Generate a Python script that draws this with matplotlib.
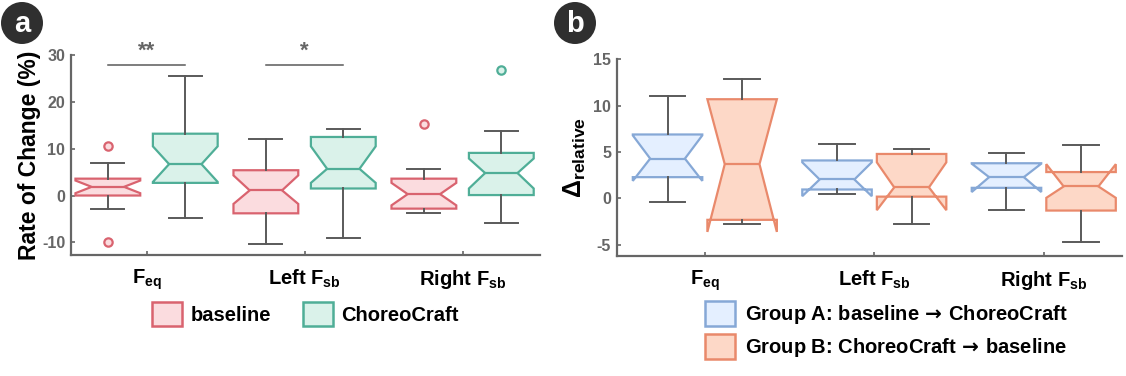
import matplotlib
matplotlib.use("Agg")
import matplotlib.pyplot as plt
from matplotlib.patches import Patch, Ellipse

plt.rcParams['font.family'] = ['Liberation Sans', 'DejaVu Sans']
plt.rcParams['font.weight'] = 'bold'
plt.rcParams['mathtext.fontset'] = 'custom'
plt.rcParams['mathtext.rm'] = 'Liberation Sans:bold'
plt.rcParams['mathtext.it'] = 'Liberation Sans:bold'
plt.rcParams['mathtext.bf'] = 'Liberation Sans:bold'
plt.rcParams['mathtext.sf'] = 'DejaVu Sans:bold'  # so pra seta

#categorias
categories = [r"F$_{eq}$", r"Left F$_{sb}$", r"Right F$_{sb}$"]

#painel a: taxa de mudança (%)
base_med    = [1.85, 1.1, 0.3]
base_q1     = [0.0, -3.8, -2.8]
base_q3     = [3.6, 5.4, 3.6]
base_lo     = [-2.8, -10.3, -3.7]
base_hi     = [6.95, 12.0, 5.6]
base_cilo   = [0.5, -1.8, -2.1]
base_cihi   = [3.2, 4.3, 2.7]
base_fliers = [[10.6, -9.9], [], [15.3]]

choreo_med    = [6.7, 5.7, 4.8]
choreo_q1     = [2.7, 1.5, 0.1]
choreo_q3     = [13.2, 12.5, 9.1]
choreo_lo     = [-4.75, -9.0, -5.8]
choreo_hi     = [25.5, 14.3, 13.7]
choreo_cilo   = [2.9, 2.7, 1.5]
choreo_cihi   = [10.5, 10.5, 7.9]
choreo_fliers = [[], [], [26.9]]

#painel b: delta relativo
ga_med  = [4.3, 2.05, 2.3]
ga_q1   = [2.3, 0.97, 1.15]
ga_q3   = [6.9, 4.1, 3.8]
ga_lo   = [-0.43, 0.5, -1.26]
ga_hi   = [11.0, 5.9, 4.9]
ga_cilo = [1.9, 0.25, 0.7]
ga_cihi = [6.8, 3.9, 3.75]

gb_med  = [3.7, 1.2, 1.3]
gb_q1   = [-2.3, 0.2, -1.3]
gb_q3   = [10.7, 4.8, 2.85]
gb_lo   = [-2.7, -2.7, -4.7]
gb_hi   = [12.9, 5.3, 5.8]
gb_cilo = [-3.6, -1.26, 0.07]
gb_cihi = [10.7, 3.9, 3.7]

#significancia (grupo, texto)
sig_idx  = [0, 1]
sig_text = ["**", "*"]
sig_y    = 27.9

RED, RED_F = "#d9636f", "#fbdcdf"
TEAL, TEAL_F = "#4fae97", "#daf2ea"
BLUE, BLUE_F = "#86a8d6", "#e4efff"
ORANGE, ORANGE_F = "#e9896b", "#fdd8c7"
GRAY = "#666666"
WHISK = "#5a5a5a"


def make_stats(med, q1, q3, lo, hi, cilo, cihi, fliers=None):
    out = []
    for i in range(len(med)):
        out.append(dict(med=med[i], q1=q1[i], q3=q3[i], whislo=lo[i], whishi=hi[i],
                        cilo=cilo[i], cihi=cihi[i],
                        fliers=fliers[i] if fliers else []))
    return out


def draw(ax, stats, pos, edge, fill, width):
    ax.bxp(stats, positions=pos, widths=width, capwidths=0.21, patch_artist=True,
           shownotches=True,
           boxprops=dict(facecolor=fill, edgecolor=edge, linewidth=1.6),
           medianprops=dict(color=edge, linewidth=1.6),
           whiskerprops=dict(color=WHISK, linewidth=1.4),
           capprops=dict(color=WHISK, linewidth=1.4),
           flierprops=dict(marker="o", markersize=6, markerfacecolor=fill,
                           markeredgecolor=edge, markeredgewidth=1.6),
           zorder=3)


def style(ax, yticks):
    for s in ["top", "right"]:
        ax.spines[s].set_visible(False)
    for s in ["left", "bottom"]:
        ax.spines[s].set_color(GRAY)
        ax.spines[s].set_linewidth(1.6)
    ax.tick_params(axis="y", direction="in", length=3, width=1.2, color=GRAY,
                   labelcolor=GRAY, pad=4)
    ax.tick_params(axis="x", direction="in", length=3, width=1.2, color=GRAY,
                   labelcolor="black", labelsize=14.5, pad=9)
    ax.set_yticks(yticks)
    ax.set_yticklabels([str(v) for v in yticks], fontsize=11.5, fontweight="heavy")
    ax.set_xticks([1, 2, 3])
    ax.set_xticklabels(categories)


fig = plt.figure(figsize=(11.26, 3.76), dpi=100)
ax1 = fig.add_axes([0.0628, 0.3218, 0.4168, 0.5319])
ax2 = fig.add_axes([0.5477, 0.3191, 0.4485, 0.5231])

x = [1, 2, 3]
off1 = 0.245
draw(ax1, make_stats(base_med, base_q1, base_q3, base_lo, base_hi, base_cilo, base_cihi, base_fliers),
     [p - off1 for p in x], RED, RED_F, 0.41)
draw(ax1, make_stats(choreo_med, choreo_q1, choreo_q3, choreo_lo, choreo_hi, choreo_cilo, choreo_cihi, choreo_fliers),
     [p + off1 for p in x], TEAL, TEAL_F, 0.41)
ax1.set_xlim(0.52, 3.49)
ax1.set_ylim(-12.7, 30)
style(ax1, [-10, 0, 10, 20, 30])
ax1.set_ylabel("Rate of Change (%)", fontsize=16.5, fontweight="bold", labelpad=1)

for i, t in zip(sig_idx, sig_text):
    ax1.plot([x[i] - off1, x[i] + off1], [sig_y, sig_y], color=WHISK, lw=1.1, clip_on=False)
    ax1.text(x[i], sig_y + 0.6, t, ha="center", va="bottom", color=GRAY,
             fontsize=16, fontweight="bold", clip_on=False)

ax1.legend(handles=[Patch(facecolor=RED_F, edgecolor=RED, lw=1.8, label="baseline"),
                    Patch(facecolor=TEAL_F, edgecolor=TEAL, lw=1.8, label="ChoreoCraft")],
           loc="center", bbox_to_anchor=(0.5, -0.295), ncol=2, frameon=False,
           prop=dict(size=14.5, weight="bold"), handlelength=1.5, handleheight=1.5,
           handletextpad=0.4, columnspacing=1.6, borderpad=0)

off2 = 0.22
draw(ax2, make_stats(ga_med, ga_q1, ga_q3, ga_lo, ga_hi, ga_cilo, ga_cihi),
     [p - off2 for p in x], BLUE, BLUE_F, 0.41)
draw(ax2, make_stats(gb_med, gb_q1, gb_q3, gb_lo, gb_hi, gb_cilo, gb_cihi),
     [p + off2 for p in x], ORANGE, ORANGE_F, 0.41)
ax2.set_xlim(0.48, 3.46)
ax2.set_ylim(-6.2, 15)
style(ax2, [-5, 0, 5, 10, 15])
ax2.set_ylabel(r"$\Delta_{relative}$", fontsize=18, labelpad=4)

ax2.legend(handles=[Patch(facecolor=BLUE_F, edgecolor=BLUE, lw=1.8,
                          label=r"Group A: baseline$\,\mathsf{\rightarrow}\,$ChoreoCraft"),
                    Patch(facecolor=ORANGE_F, edgecolor=ORANGE, lw=1.8,
                          label=r"Group B: ChoreoCraft$\,\mathsf{\rightarrow}\,$baseline")],
           loc="upper left", bbox_to_anchor=(0.175, -0.23), ncol=1, frameon=False,
           prop=dict(size=14.5, weight="bold"), handlelength=1.5, handleheight=1.5,
           handletextpad=0.5, labelspacing=0.4, borderpad=0, borderaxespad=0)

#rotulos dos paineis
for cx, letter in [(22, "a"), (575, "b")]:
    fig.patches.append(Ellipse((cx / 1126, 1 - 23 / 376), 42 / 1126, 42 / 376,
                               transform=fig.transFigure, facecolor="#2f2f2f", edgecolor="none"))
    fig.text(cx / 1126, 1 - 24 / 376, letter, ha="center", va="center", color="white",
             fontsize=21, fontweight="bold")

fig.savefig("out.png", dpi=100)
